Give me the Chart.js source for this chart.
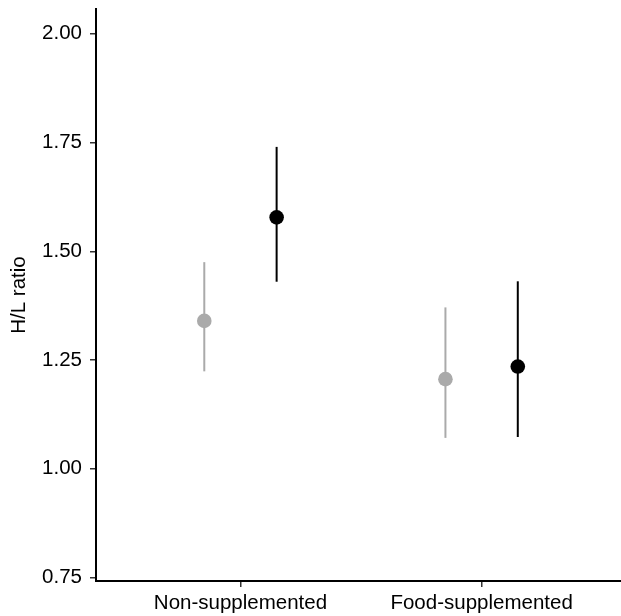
<!DOCTYPE html>
<html>
<head>
<meta charset="utf-8">
<script src="https://cdn.jsdelivr.net/npm/chart.js@4/dist/chart.umd.min.js"></script>
<style>
html,body{margin:0;padding:0;background:#fff;}
#wrap{width:621px;height:616px;position:relative;}
</style>
</head>
<body>
<div id="wrap"><canvas id="c" width="621" height="616"></canvas></div>
<script>
const categories = ["Non-supplemented", "Food-supplemented"];
const groupPositions = [1, 2];
const dodge = [-0.15, 0.15];
// series: grey and black
const greyMean = [1.340, 1.206];
const greyLow  = [1.224, 1.071];
const greyHigh = [1.475, 1.371];
const blackMean = [1.578, 1.235];
const blackLow  = [1.430, 1.073];
const blackHigh = [1.740, 1.431];
const yTicks = [0.75, 1.00, 1.25, 1.50, 1.75, 2.00];

const GREY = '#aaaaaa';
const BLACK = '#000000';

const datasets = [];
function addSeries(mean, low, high, color, d) {
  groupPositions.forEach((g, i) => {
    datasets.push({
      type: 'line',
      data: [{x: g + d, y: low[i]}, {x: g + d, y: high[i]}],
      borderColor: color,
      borderWidth: 2,
      pointRadius: 0,
      fill: false,
      order: 2
    });
  });
  datasets.push({
    type: 'scatter',
    data: groupPositions.map((g, i) => ({x: g + d, y: mean[i]})),
    backgroundColor: color,
    borderColor: color,
    borderWidth: 0,
    pointRadius: 7.3,
    pointHoverRadius: 7.3,
    order: 0
  });
}
addSeries(greyMean, greyLow, greyHigh, GREY, dodge[0]);
addSeries(blackMean, blackLow, blackHigh, BLACK, dodge[1]);

const font = {family: '"Liberation Sans", Arial, sans-serif', size: 20.5};

function noPad(s) { s.paddingTop = 0; s.paddingBottom = 0; s.paddingLeft = 0; s.paddingRight = 0; }

new Chart(document.getElementById('c'), {
  type: 'scatter',
  data: {datasets},
  options: {
    responsive: false,
    animation: false,
    layout: {autoPadding: false, padding: {top: 9, right: 0, bottom: 0, left: 0}},
    plugins: {legend: {display: false}, tooltip: {enabled: false}},
    scales: {
      x: {
        type: 'linear',
        min: 0.401,
        max: 2.578,
        afterBuildTicks: s => { s.ticks = groupPositions.map(v => ({value: v})); },
        ticks: {
          color: '#000',
          font: font,
          padding: 4,
          maxRotation: 0,
          autoSkip: false,
          callback: (v) => categories[groupPositions.indexOf(v)]
        },
        grid: {display: true, drawOnChartArea: false, drawTicks: true, tickLength: 6, color: '#333', lineWidth: 1.5},
        border: {display: true, color: '#000', width: 2},
        afterFit: s => { s.height = 35; noPad(s); }
      },
      y: {
        type: 'linear',
        min: 0.742,
        max: 2.057,
        afterBuildTicks: s => { s.ticks = yTicks.map(v => ({value: v})); },
        ticks: {
          color: '#000',
          font: font,
          padding: 8,
          callback: v => v.toFixed(2)
        },
        title: {display: true, text: 'H/L ratio', color: '#000', font: font, padding: {top: 7, bottom: 0}},
        grid: {display: true, drawOnChartArea: false, drawTicks: true, tickLength: 6, color: '#333', lineWidth: 1.5},
        border: {display: true, color: '#000', width: 2},
        afterFit: s => { s.width = 96; noPad(s); }
      }
    }
  }
});
</script>
</body>
</html>
